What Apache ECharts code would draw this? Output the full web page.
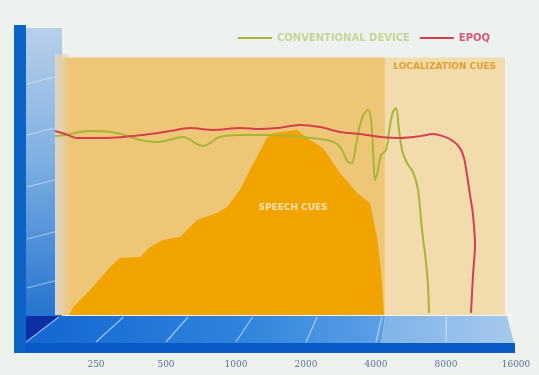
<!DOCTYPE html>
<html>
<head>
<meta charset="utf-8">
<style>
  html, body { margin: 0; padding: 0; background: #eef2ef; }
  #main { width: 539px; height: 375px; }
</style>
<script src="https://cdn.jsdelivr.net/npm/echarts@6/dist/echarts.min.js"></script>
</head>
<body>
<div id="main"></div>
<script>
// Frequency tick labels along the front edge of the floor (Hz, octave steps)
const freqTicks = ['125', '250', '500', '1000', '2000', '4000', '8000', '16000'];

// Frequency bands painted on the back panel (Hz)
const speechBandHz = [120, 4150];
const localizationBandHz = [4150, 15000];

// Conventional device response (frequency in Hz, relative level 0-100)
const conventionalHz = [120, 134, 157, 184, 233, 299, 358, 474, 587, 705, 873, 1167, 1663, 2222, 2473, 2638, 2783, 2905, 3033, 3166, 3305, 3450, 3562, 3640, 3719, 3840, 3966, 4184, 4368, 4511, 4659, 4811, 4968, 5241, 5591, 5899, 6157, 6427, 6566, 6637];
const conventionalLevel = [68.8, 69.2, 70.4, 70.8, 70.0, 67.3, 66.5, 68.5, 65.0, 68.5, 69.2, 69.2, 68.5, 67.3, 65.8, 62.7, 58.8, 58.5, 65.4, 73.1, 77.3, 78.8, 75.0, 63.5, 51.9, 55.8, 61.5, 63.5, 73.1, 78.1, 79.6, 71.2, 63.5, 58.5, 55.0, 48.1, 32.7, 20.4, 11.5, 0.8];

// EPOQ response
const epoqHz = [120, 134, 152, 194, 249, 333, 412, 511, 654, 873, 1082, 1299, 1663, 2061, 2554, 3166, 3923, 4862, 6026, 6929, 7882, 8586, 9256, 9662, 9978, 10305, 10642, 10872, 10642, 10416];
const epoqLevel = [70.8, 69.6, 68.1, 68.1, 68.5, 69.6, 70.8, 71.9, 71.2, 71.9, 71.5, 71.9, 73.1, 72.3, 70.4, 69.6, 68.5, 68.1, 68.8, 69.6, 68.5, 66.9, 64.2, 60.4, 53.8, 46.2, 38.5, 26.9, 15.4, 0.8];

// Speech cues envelope
const speechHz = [140, 146, 175, 217, 241, 299, 333, 382, 459, 551, 683, 760, 873, 972, 1167, 1245, 1610, 1792, 2128, 2554, 3065, 3524, 3799, 3966, 4095];
const speechLevel = [0, 3.1, 9.6, 18.5, 21.9, 22.3, 26.2, 28.8, 30.0, 36.5, 39.2, 41.5, 48.1, 55.8, 68.1, 70.0, 71.2, 68.1, 64.2, 54.6, 46.9, 43.1, 30.0, 17.3, 0];

const zip = (xs, ys) => xs.map((x, i) => [x, ys[i]]);

const chart = echarts.init(document.getElementById('main'), null, { renderer: 'canvas' });

const option = {
  backgroundColor: '#eef2ef',
  animation: false,
  legend: {
    right: 44,
    top: 28,
    itemWidth: 34,
    itemHeight: 2,
    itemGap: 10,
    icon: 'rect',
    textStyle: { fontFamily: 'DejaVu Sans', fontWeight: 'bold', fontSize: 10 },
    data: [
      { name: 'CONVENTIONAL DEVICE', textStyle: { color: '#c6d498' } },
      { name: 'EPOQ', textStyle: { color: '#d6577a' } }
    ]
  },
  grid: [
    { left: 55, right: 34, top: 55, bottom: 60 },
    { left: 26, right: 23, top: 55, bottom: 32 }
  ],
  xAxis: [
    { type: 'log', logBase: 2, min: 120, max: 15000, gridIndex: 0, show: false },
    {
      type: 'category', gridIndex: 1, data: freqTicks, boundaryGap: false,
      axisLine: { show: false }, axisTick: { show: false }, splitLine: { show: false },
      axisLabel: {
        interval: (i) => i > 0,
        margin: 17,
        color: '#5b6e9c',
        fontFamily: 'DejaVu Serif',
        fontSize: 9
      }
    }
  ],
  yAxis: [
    { type: 'value', min: 0, max: 100, gridIndex: 0, show: false },
    { type: 'value', min: 0, max: 100, gridIndex: 1, show: false }
  ],
  series: [
    {
      name: 'panel', type: 'line', data: [], z: 0, silent: true,
      markArea: {
        silent: true,
        label: { show: false },
        data: [
          [{ xAxis: speechBandHz[0], yAxis: 0, itemStyle: { color: '#eec677' } }, { xAxis: speechBandHz[1], yAxis: 99 }],
          [{ xAxis: localizationBandHz[0], yAxis: 0, itemStyle: { color: '#f2dcae' } }, { xAxis: localizationBandHz[1], yAxis: 99 }]
        ]
      }
    },
    {
      name: 'SPEECH CUES', type: 'line', z: 2, silent: true,
      data: zip(speechHz, speechLevel),
      showSymbol: false, symbol: 'none',
      lineStyle: { width: 0 },
      areaStyle: { color: '#f1a300', opacity: 1 }
    },
    {
      name: 'CONVENTIONAL DEVICE', type: 'line', z: 3,
      data: zip(conventionalHz, conventionalLevel),
      showSymbol: false, symbol: 'none', smooth: 0.3,
      color: '#a8b535',
      lineStyle: { width: 2, color: '#a8b535' }
    },
    {
      name: 'EPOQ', type: 'line', z: 4,
      data: zip(epoqHz, epoqLevel),
      showSymbol: false, symbol: 'none', smooth: 0.3,
      color: '#d6404c',
      lineStyle: { width: 2, color: '#d6404c' }
    }
  ]
};

chart.setOption(option);

// Perspective decoration: wall, floor and the floor's octave guide lines
const backY = 316, frontY = 343;
const floorLines = freqTicks.slice(0, 7).map((f) => {
  const front = chart.convertToPixel({ xAxisIndex: 1 }, f);
  const back = chart.convertToPixel({ xAxisIndex: 0 }, Number(f));
  return {
    type: 'line', z: 1, silent: true,
    shape: { x1: front, y1: frontY - 1, x2: back, y2: backY + 1 },
    style: { stroke: 'rgba(225,238,255,0.65)', lineWidth: 1.2 }
  };
});
const bandSplit = chart.convertToPixel({ xAxisIndex: 0 }, localizationBandHz[0]);
const bandEnd = chart.convertToPixel({ xAxisIndex: 0 }, localizationBandHz[1]);

const wallLineYs = [80, 131, 183, 235, 284];
const wallLines = wallLineYs.map((y) => ({
  type: 'line', z: 0, silent: true,
  shape: { x1: 27, y1: y + 4, x2: 62, y2: y - 5 },
  style: { stroke: 'rgba(235,244,255,0.55)', lineWidth: 1.2 }
}));

chart.setOption({
  graphic: [
    // side wall
    {
      type: 'rect', z: 0, silent: true,
      shape: { x: 26, y: 28, width: 36, height: 290 },
      style: {
        fill: new echarts.graphic.LinearGradient(0, 0, 0, 1, [
          { offset: 0, color: '#b8cfea' },
          { offset: 0.45, color: '#7fb0e2' },
          { offset: 1, color: '#2473d0' }
        ])
      }
    },
    ...wallLines,
    // floor
    {
      type: 'polygon', z: 0, silent: true,
      shape: { points: [[26, backY], [bandSplit, backY], [bandSplit - 4, frontY], [14, frontY]] },
      style: {
        fill: new echarts.graphic.LinearGradient(0, 0, 1, 0, [
          { offset: 0, color: '#1264d0' },
          { offset: 0.6, color: '#2f83dc' },
          { offset: 1, color: '#5ca0e6' }
        ])
      }
    },
    {
      type: 'polygon', z: 0, silent: true,
      shape: { points: [[bandSplit, backY], [bandEnd + 2, backY], [bandEnd + 9, frontY], [bandSplit - 4, frontY]] },
      style: {
        fill: new echarts.graphic.LinearGradient(0, 0, 1, 0, [
          { offset: 0, color: '#7fb3e8' },
          { offset: 1, color: '#a6c9ec' }
        ])
      }
    },
    // floor corner shadow
    {
      type: 'polygon', z: 0, silent: true,
      shape: { points: [[26, backY], [59, backY], [27, frontY - 1], [26, frontY - 1]] },
      style: { fill: '#0c2fa2' }
    },
    // front edge of the floor
    {
      type: 'rect', z: 0, silent: true,
      shape: { x: 14, y: frontY, width: bandEnd + 10 - 14, height: 10 },
      style: { fill: '#0a5ac6' }
    },
    // wall edge
    {
      type: 'rect', z: 0, silent: true,
      shape: { x: 14, y: 25, width: 12, height: 328 },
      style: { fill: '#0b63c8' }
    },
    ...floorLines,
    // shaded left edge of the back panel
    {
      type: 'rect', z: 1, silent: true,
      shape: { x: 55, y: 54, width: 17, height: 261 },
      style: {
        fill: new echarts.graphic.LinearGradient(0, 0, 1, 0, [
          { offset: 0, color: 'rgba(214,214,212,0.95)' },
          { offset: 0.5, color: 'rgba(226,208,176,0.7)' },
          { offset: 1, color: 'rgba(238,198,119,0)' }
        ])
      }
    },
    {
      type: 'text', z: 10, silent: true,
      style: {
        text: 'LOCALIZATION CUES', x: bandSplit + 8, y: 62,
        fill: '#e3a02c', font: 'bold 9px "DejaVu Sans"'
      }
    },
    {
      type: 'text', z: 10, silent: true,
      style: {
        text: 'SPEECH CUES', x: 293, y: 208, align: 'center', verticalAlign: 'middle',
        fill: '#fae0b0', font: 'bold 9px "DejaVu Sans"'
      }
    }
  ]
});
</script>
</body>
</html>
